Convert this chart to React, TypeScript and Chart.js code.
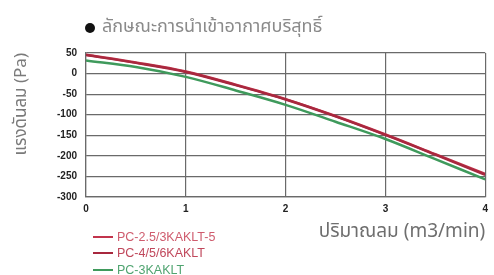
import React, { useEffect, useRef } from "react";
import { Chart, registerables } from "chart.js";

Chart.register(...registerables);

const flowRates = [0, 0.5, 1, 1.5, 2, 2.5, 3, 3.5, 4];
const seriesNames = ["PC-2.5/3KAKLT-5", "PC-4/5/6KAKLT", "PC-3KAKLT"];
const pc25Values = [46, 27, 5, -27, -62, -103, -148, -196, -244];
const pc456Values = [45, 26, 4, -28, -63, -104, -149, -197, -246];
const pc3Values = [32, 16, -8, -41, -76, -117, -159, -208, -257];
const yTicks = [50, 0, -50, -100, -150, -200, -250, -300];
const xTicks = [0, 1, 2, 3, 4];
const chartTitle = "ลักษณะการนำเข้าอากาศบริสุทธิ์";
const yTitle = "แรงดันลม (Pa)";
const xTitle = "ปริมาณลม (m3/min)";

const lineColors = ["#c2344c", "#a8283e", "#3f9a5c"];
const textColors = ["#cf5c6e", "#c0485c", "#4fa470"];
const THAI = "'Noto Sans Thai', 'Noto Sans Thai Looped', 'Noto Sans', 'DejaVu Sans', sans-serif";

const overlayPlugin = {
  id: "overlay",
  afterDraw(chart: any) {
    const ctx = chart.ctx;
    ctx.save();
    // title bullet
    ctx.fillStyle = "#111";
    ctx.beginPath();
    ctx.arc(90, 28, 5, 0, Math.PI * 2);
    ctx.fill();
    ctx.fillStyle = "#8a8a8a";
    ctx.font = "18px " + THAI;
    ctx.textBaseline = "middle";
    ctx.textAlign = "left";
    ctx.fillText(chartTitle, 102, 28);
    // legend
    const ys = [237, 253, 270];
    ctx.font = "12.5px 'Liberation Sans', Arial, sans-serif";
    seriesNames.forEach((name, i) => {
      ctx.strokeStyle = lineColors[i];
      ctx.lineWidth = 2;
      ctx.beginPath();
      ctx.moveTo(93, ys[i]);
      ctx.lineTo(113, ys[i]);
      ctx.stroke();
      ctx.fillStyle = textColors[i];
      ctx.fillText(name, 117, ys[i] + 0.5);
    });
    ctx.restore();
  },
};

export default function App() {
  const ref = useRef<HTMLCanvasElement>(null);
  useEffect(() => {
    document.body.style.margin = "0";
    const canvas = ref.current!;
    const mk = (i: number, data: number[]) => ({
      label: seriesNames[i],
      data: flowRates.map((x, k) => ({ x, y: data[k] })),
      borderColor: lineColors[i],
      backgroundColor: lineColors[i],
      borderWidth: 2.5,
      pointRadius: 0,
      tension: 0.4,
      cubicInterpolationMode: "monotone" as const,
    });
    const chart = new Chart(canvas, {
      type: "line",
      data: {
        datasets: [mk(2, pc3Values), mk(1, pc456Values), mk(0, pc25Values)],
      },
      options: {
        responsive: false,
        animation: false,
        layout: { padding: { left: 0, right: 7, top: 53, bottom: 0 } },
        plugins: { legend: { display: false }, tooltip: { enabled: false }, title: { display: false } },
        scales: {
          x: {
            type: "linear",
            min: 0,
            max: 4,
            afterBuildTicks: (s: any) => {
              s.ticks = xTicks.map((v) => ({ value: v }));
            },
            afterFit: (s: any) => {
              s.height = 78;
            },
            grid: { color: "#6a6a6a", lineWidth: 1.2, drawTicks: false },
            border: { color: "#6a6a6a", width: 1.2 },
            ticks: {
              padding: 6,
              color: "#222",
              font: { size: 10, weight: "bold", family: "'Liberation Sans', Arial, sans-serif" },
            },
            title: {
              display: true,
              text: xTitle,
              align: "end",
              color: "#6e6e6e",
              font: { size: 19, family: THAI },
              padding: { top: 0, bottom: 30 },
            },
          },
          y: {
            min: -300,
            max: 50,
            afterBuildTicks: (s: any) => {
              s.ticks = yTicks.map((v) => ({ value: v }));
            },
            afterFit: (s: any) => {
              s.width = 86;
            },
            grid: { color: "#6a6a6a", lineWidth: 1.2, drawTicks: false },
            border: { color: "#6a6a6a", width: 1.2 },
            ticks: {
              padding: 9,
              color: "#222",
              font: { size: 10, weight: "bold", family: "'Liberation Sans', Arial, sans-serif" },
            },
            title: {
              display: true,
              text: yTitle,
              align: "end",
              color: "#7a7a7a",
              font: { size: 17, family: THAI },
              padding: { top: 12, bottom: 0 },
            },
          },
        },
      },
      plugins: [overlayPlugin],
    });
    return () => chart.destroy();
  }, []);
  return <canvas ref={ref} width={494} height={275} style={{ display: "block" }} />;
}
